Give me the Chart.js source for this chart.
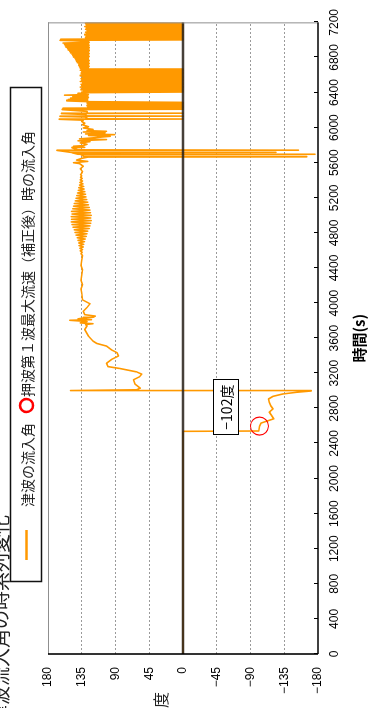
<!DOCTYPE html>
<html><head><meta charset="utf-8">
<script src="https://cdn.jsdelivr.net/npm/chart.js@4.4.0/dist/chart.umd.min.js"></script>
<style>
html,body{margin:0;padding:0;background:#fff;overflow:hidden;width:372px;height:708px;}
#wrap{position:absolute;left:0;top:0;width:708px;height:372px;transform-origin:0 0;transform:translateY(708px) rotate(-90deg);background:#fff;}
canvas{display:block;}
</style></head><body>
<div id="wrap"><canvas id="c" width="708" height="372"></canvas></div>
<script>
// ---- texts ----
const chartTitle = '津波流入角の時系列変化';
const seriesName = '津波の流入角';
const peakName = '押波第１波最大流速（補正後）時の流入角';
const xTitle = '時間(s)';
const yTitle = '度';
const peakLabel = '−102度';

// ---- ticks ----
const timeTicks = [0,400,800,1200,1600,2000,2400,2800,3200,3600,4000,4400,4800,5200,5600,6000,6400,6800,7200];
const angleTicks = [-180,-135,-90,-45,0,45,90,135,180];

// ---- series: inflow angle (deg) vs time (s) ----
const calmTimes = [0, 2538];
const calmAngles = [0, 0];

const firstWaveTimes = [2542,2595,2632,2681,2720,2757,2794,2830,2870,2907,2937,2964,2983,2998,3003,3012,3030,3077,3126,3160,3190,3216,3254,3276,3314,3359,3397,3435,3465,3510,3540,3567,3623,3698,3740,3755,3765,3774,3790,3804,3811,3820,3830,3838,3852,3868,3906,3950,3992,4037,4113];
const firstWaveAngles = [-101,-102,-104,-121,-118,-115,-120,-117,-115,-114,-120,-133,-151,-171,150,62,57,64,66,58,55,62,84,100,102,95,86,88,95,102,115,120,126,131,128,130,120,137,128,151,122,140,133,120,117,131,133,128,124,134,135];

const steadyTimes = [4160,4210,4260,4320,4380,4430,4490,4540];
const steadyAngles = [136,134,136,135,134,136,135,134];

const oscTimes = [4565,4580,4595,4610,4625,4640,4655,4670,4685,4700,4715,4730,4745,4760,4775,4790,4805,4820,4835,4850,4865,4880,4895,4910,4925,4940,4955,4970,4985,5000,5015,5030,5045,5060,5075,5090,5105,5120,5135,5150,5165,5180,5195,5210,5225,5240,5255,5270,5285,5300,5315,5330,5345,5360,5375,5390,5405,5420,5435,5450,5465,5480];
const oscAngles = [136,134.5,137,134,137.5,133,138.5,132.5,139,131.5,140,130.5,141,129,142.5,128,144,127,145,125,146.5,124,148,123,149,122.5,148.5,123,149,122.5,148,123.5,148.5,124,147,125,146,126,145,127,143.5,128.5,142.5,129.5,141.5,130,140.5,131,139.5,132,139,132.5,138,133.5,137.5,134,137,134.5,136.5,135,136.5,135];

const wrapTimes = [5500,5530,5560,5590,5600,5615,5630,5650,5664,5667,5671,5692,5695,5698,5714,5717,5720,5740,5743,5747];
const wrapAngles = [134,137,133,138,146,127,142,135,127,-165,132,136,-176,140,148,-124,150,168,-154,140];

const jitterTimes = [5770,5775,5788,5795,5810,5826,5840,5850,5864,5872,5885,5901,5910,5920,5928,5940,5950,5958,5966,5980,5996,6010,6033,6050,6070];
const jitterAngles = [148,131,146,133,128,137,124,140,102,138,118,97,126,91,130,104,133,102,128,120,133,126,134,131,135];

const spikeTimes = [6085,6095,6098,6101,6120,6128,6131,6134,6150,6160,6163,6166,6185,6205,6208,6211,6222,6226,6232,6240,6248,6256,6264,6272,6280,6288,6296];
const spikeAngles = [133,165,0,130,128,164,0,128,130,162,0,127,128,161,0,127,160,0,127,0,128,0,127,0,128,0,127];

const wedgeTimes = [6305,6313,6321,6329,6337,6345,6353,6361,6370,6378,6386,6392];
const wedgeAngles = [155,127,153,127,150,126,147,127,158,126,140,130];

const bandTimes = [6398,6406,6414,6422,6430,6438,6446,6454,6462,6470,6478,6486,6494,6502,6510,6518,6526,6534,6542,6550,6558,6566,6574,6582,6590,6598,6606,6614,6622,6630,6638,6646,6654,6662,6668];
const bandAngles = [135,0,133,0,136,0,134,0,137,0,135,0,136,0,134,0,137,0,135,0,136,0,134,0,137,0,135,0,136,0,135,0,137,0,135];

const slopeTimes = [6676,6684,6692,6700,6708,6716,6724,6732,6740,6748,6756,6764,6772,6780,6788,6796,6804,6812,6820,6828,6836,6844,6852,6860,6868,6876,6884,6892,6900,6908,6916,6924,6932,6940,6948,6956,6964,6972];
const slopeAngles = [137,126,138,125,139,126,139,125,141,126,142,125,143,126,144,126,146,125,147,126,148,125,150,126,151,125,153,126,154,125,156,126,157,125,158,126,160,125];

const lastTimes = [6985,6995,7000,7008,7014,7024,7032,7040,7048,7056,7064,7072,7080,7088,7096,7104,7112,7120,7128,7136,7144,7152,7160,7168,7176,7184,7192,7200];
const lastAngles = [127,164,0,163,0,130,0,129,0,131,0,129,0,130,0,128,0,130,0,129,0,131,0,129,0,130,0,129];

// peak marker (first push wave max velocity)
const peakTimes = [2598];
const peakAngles = [-102];
// callout anchor (data coords)
const calloutTime = 2814;
const calloutAngle = -57;

// ---- build ----
const allTimes = [].concat(calmTimes, firstWaveTimes, steadyTimes, oscTimes, wrapTimes, jitterTimes, spikeTimes, wedgeTimes, bandTimes, slopeTimes, lastTimes);
const allAngles = [].concat(calmAngles, firstWaveAngles, steadyAngles, oscAngles, wrapAngles, jitterAngles, spikeAngles, wedgeAngles, bandAngles, slopeAngles, lastAngles);
const seriesData = allTimes.map((t, i) => ({x: t, y: allAngles[i]}));
const peakData = peakTimes.map((t, i) => ({x: t, y: peakAngles[i]}));

const ORANGE = '#ff9900';
const CJK = '"Noto Sans CJK JP", "Noto Sans", sans-serif';
const LAT = '"Liberation Sans", Arial, sans-serif';

const decor = {
  id: 'decor',
  afterDatasetsDraw(chart) {
    const {ctx, chartArea: a, scales: {x, y}} = chart;
    const ln = (x1, y1, x2, y2) => { ctx.beginPath(); ctx.moveTo(x1, y1); ctx.lineTo(x2, y2); ctx.stroke(); };
    ctx.save();
    // zero line
    const y0 = y.getPixelForValue(0);
    ctx.strokeStyle = 'rgba(38,30,22,0.85)';
    ctx.lineWidth = 2.5;
    ln(a.left, y0, a.right, y0);
    // top / right frame (gray)
    ctx.strokeStyle = '#8f8f8f';
    ctx.lineWidth = 1;
    ln(a.left, a.top + 0.5, a.right, a.top + 0.5);
    ln(a.right - 0.5, a.top, a.right - 0.5, a.bottom);
    // bottom / left axes (black)
    ctx.strokeStyle = '#000';
    ctx.lineWidth = 1.6;
    ln(a.left, a.bottom, a.right, a.bottom);
    ln(a.left, a.top, a.left, a.bottom);
    // inward tick marks on time axis
    ctx.lineWidth = 1;
    timeTicks.forEach(t => { const px = Math.round(x.getPixelForValue(t)) + 0.5; ln(px, a.bottom, px, a.bottom - 4); });
    // callout box
    const cx = x.getPixelForValue(calloutTime), cy = y.getPixelForValue(calloutAngle);
    ctx.font = '14px ' + CJK;
    const tw = ctx.measureText(peakLabel).width;
    const bw = tw + 10, bh = 25;
    ctx.fillStyle = '#fff';
    ctx.fillRect(cx - bw / 2, cy - bh / 2, bw, bh);
    ctx.strokeStyle = '#000';
    ctx.lineWidth = 1;
    ctx.strokeRect(Math.round(cx - bw / 2) + 0.5, Math.round(cy - bh / 2) + 0.5, Math.round(bw), bh);
    ctx.fillStyle = '#000';
    ctx.textAlign = 'center';
    ctx.textBaseline = 'middle';
    ctx.fillText(peakLabel, cx, cy + 1);
    ctx.restore();
  },
  afterDraw(chart) {
    const {ctx} = chart;
    ctx.save();
    // title (partially outside the frame as in the source crop)
    ctx.fillStyle = '#222';
    ctx.font = '19px ' + CJK;
    ctx.textAlign = 'right';
    ctx.textBaseline = 'middle';
    ctx.fillText(chartTitle, 193, 1);
    // y axis label
    ctx.font = '16px ' + CJK;
    ctx.textAlign = 'center';
    ctx.fillText(yTitle, 8, 161);
    // legend box
    const lx = 126.5, ly = 10.5, lw = 494, lh = 31;
    ctx.strokeStyle = '#111';
    ctx.lineWidth = 1.5;
    ctx.strokeRect(lx, ly, lw, lh);
    const my = 26.5;
    ctx.strokeStyle = ORANGE;
    ctx.lineWidth = 2.5;
    ctx.beginPath(); ctx.moveTo(148, my); ctx.lineTo(178, my); ctx.stroke();
    ctx.fillStyle = '#222';
    ctx.font = '14px ' + CJK;
    ctx.textAlign = 'left';
    ctx.fillText(seriesName, 201, my + 1);
    ctx.strokeStyle = '#ff0000';
    ctx.lineWidth = 2.5;
    ctx.beginPath(); ctx.arc(302.5, my, 6.5, 0, Math.PI * 2); ctx.stroke();
    ctx.fillText(peakName, 311, my + 1);
    ctx.restore();
  }
};

new Chart(document.getElementById('c'), {
  type: 'line',
  data: {
    datasets: [
      {
        label: seriesName,
        data: seriesData,
        borderColor: ORANGE,
        borderWidth: 1.6,
        borderJoinStyle: 'round',
        pointRadius: 0,
        tension: 0,
        fill: false,
        order: 2
      },
      {
        label: peakName,
        data: peakData,
        showLine: false,
        pointStyle: 'circle',
        pointRadius: 9,
        pointBorderColor: '#ff0000',
        pointBackgroundColor: 'rgba(0,0,0,0)',
        pointBorderWidth: 1.2,
        order: 1
      }
    ]
  },
  options: {
    responsive: false,
    devicePixelRatio: 1,
    animation: false,
    parsing: false,
    normalized: true,
    layout: {padding: {left: 0, top: 48, right: 17, bottom: 0}},
    plugins: {legend: {display: false}, title: {display: false}, tooltip: {enabled: false}},
    events: [],
    scales: {
      x: {
        type: 'linear',
        min: 0, max: 7200,
        afterBuildTicks: s => { s.ticks = timeTicks.map(v => ({value: v})); },
        afterFit: s => { s.height = 54; },
        grid: {display: false, drawTicks: false},
        border: {display: false},
        ticks: {padding: 9, color: '#000', font: {family: LAT, size: 12}, maxRotation: 0, autoSkip: false,
          callback: v => String(v)},
        title: {display: true, text: xTitle, color: '#000', font: {family: CJK, size: 15, weight: 'bold'}, padding: {top: 0, bottom: 4}}
      },
      y: {
        type: 'linear',
        min: -180, max: 180,
        afterBuildTicks: s => { s.ticks = angleTicks.map(v => ({value: v})); },
        afterFit: s => { s.width = 54; },
        grid: {
          drawTicks: false,
          lineWidth: 1,
          color: c => { const v = c.tick && c.tick.value; return (v === 0 || Math.abs(v) === 180) ? 'rgba(0,0,0,0)' : '#9a9a9a'; }
        },
        border: {display: false, dash: [2, 2]},
        ticks: {
          padding: 13, color: '#000', font: {family: LAT, size: 12}, autoSkip: false,
          callback: v => v < 0 ? '−' + Math.abs(v) : String(v)
        }
      }
    }
  },
  plugins: [decor]
});
</script></body></html>
